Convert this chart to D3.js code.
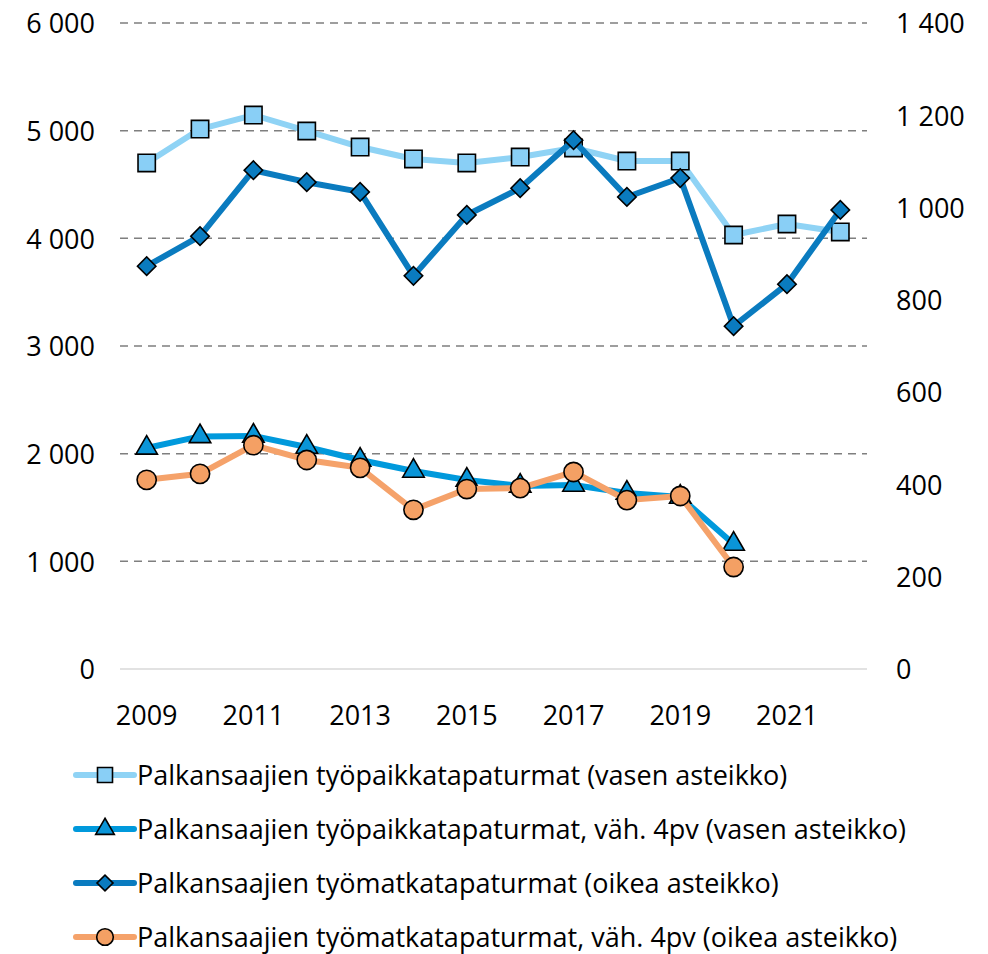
<!DOCTYPE html>
<html>
<head>
<meta charset="utf-8">
<script src="https://cdn.jsdelivr.net/npm/d3@7"></script>
<style>
  body { margin: 0; background: #fff; }
  svg text { font-family: "Open Sans", "Noto Sans", sans-serif; fill: #000; }
</style>
</head>
<body>
<svg id="chart" width="988" height="954"></svg>
<script>
const years = [2009, 2010, 2011, 2012, 2013, 2014, 2015, 2016, 2017, 2018, 2019, 2020, 2021, 2022];

// vasen asteikko
const tyopaikka = [4700, 5015, 5145, 4997, 4848, 4737, 4700, 4755, 4839, 4718, 4718, 4031, 4133, 4059];
const tyopaikka4pv = [2053, 2160, 2165, 2062, 1941, 1839, 1755, 1700, 1709, 1635, 1597, 1160, null, null];
// oikea asteikko
const tyomatka = [873, 938, 1081, 1055, 1034, 852, 984, 1042, 1146, 1023, 1064, 743, 834, 995];
const tyomatka4pv = [410, 423, 485, 453, 436, 345, 390, 392, 427, 366, 375, 221, null, null];

const leftTicks = [0, 1000, 2000, 3000, 4000, 5000, 6000];
const rightTicks = [0, 200, 400, 600, 800, 1000, 1200, 1400];
const labelYears = [2009, 2011, 2013, 2015, 2017, 2019, 2021];

const legendLabels = [
  'Palkansaajien työpaikkatapaturmat (vasen asteikko)',
  'Palkansaajien työpaikkatapaturmat, väh. 4pv (vasen asteikko)',
  'Palkansaajien työmatkatapaturmat (oikea asteikko)',
  'Palkansaajien työmatkatapaturmat, väh. 4pv (oikea asteikko)'
];

const fmt = v => d3.format(',')(v).replace(/,/g, ' ');
const fontSize = '27px';

const svg = d3.select('#chart'),
    plot = { left: 120, right: 867, top: 23, bottom: 669 };

const x = d3.scaleBand().domain(years).range([plot.left, plot.right]),
    yL = d3.scaleLinear().domain([0, 6000]).range([plot.bottom, plot.top]),
    yR = d3.scaleLinear().domain([0, 1400]).range([plot.bottom, plot.top]);

const cx = d => x(d) + x.bandwidth() / 2;

// gridlines
svg.append('g')
    .selectAll('line')
    .data(leftTicks.filter(t => t > 0))
    .enter().append('line')
    .attr('x1', plot.left).attr('x2', plot.right)
    .attr('y1', d => yL(d)).attr('y2', d => yL(d))
    .attr('stroke', '#7f7f7f')
    .attr('stroke-width', 1.5)
    .attr('stroke-dasharray', '8,6');

svg.append('line')
    .attr('x1', plot.left).attr('x2', plot.right)
    .attr('y1', plot.bottom).attr('y2', plot.bottom)
    .attr('stroke', '#d9d9d9')
    .attr('stroke-width', 1.5);

// axes
const leftAxis = svg.append('g')
    .attr('transform', `translate(${plot.left - 25},0)`)
    .call(d3.axisLeft(yL).tickValues(leftTicks).tickFormat(fmt).tickSize(0).tickPadding(0));
const rightAxis = svg.append('g')
    .attr('transform', `translate(${plot.right + 29},0)`)
    .call(d3.axisRight(yR).tickValues(rightTicks).tickFormat(fmt).tickSize(0).tickPadding(0));
const bottomAxis = svg.append('g')
    .attr('transform', `translate(0,${plot.bottom + 46})`)
    .call(d3.axisBottom(x).tickValues(labelYears).tickSize(0).tickPadding(0));

[leftAxis, rightAxis, bottomAxis].forEach(a => {
    a.select('.domain').remove();
    a.selectAll('text').style('font-size', fontSize).attr('fill', '#000').attr('dy', '0.36em');
});

// series
const series = [
    { values: tyopaikka, y: yL, color: '#8fd3f5', fill: '#89cff6', symbol: d3.symbolSquare, size: 300, rot: 0 },
    { values: tyopaikka4pv, y: yL, color: '#0099dc', fill: '#0a95d8', symbol: d3.symbolTriangle, size: 200, rot: 0 },
    { values: tyomatka, y: yR, color: '#0a7bbf', fill: '#0a7bbf', symbol: d3.symbolSquare, size: 170, rot: 45 },
    { values: tyomatka4pv, y: yR, color: '#f5a26a', fill: '#f4a064', symbol: d3.symbolCircle, size: 290, rot: 0 }
];

series.forEach(s => {
    const pts = years.map((yr, i) => ({ yr, v: s.values[i] })).filter(p => p.v != null);
    const line = d3.line().x(p => cx(p.yr)).y(p => s.y(p.v));
    svg.append('path')
        .datum(pts)
        .attr('d', line)
        .attr('fill', 'none')
        .attr('stroke', s.color)
        .attr('stroke-width', 6)
        .attr('stroke-linejoin', 'round');
    svg.append('g')
        .selectAll('path')
        .data(pts)
        .enter().append('path')
        .attr('d', d3.symbol().type(s.symbol).size(s.size))
        .attr('transform', p => `translate(${cx(p.yr)},${s.y(p.v)}) rotate(${s.rot})`)
        .attr('fill', s.fill)
        .attr('stroke', '#000')
        .attr('stroke-width', 1.6);
});

// legend
const legend = svg.append('g');
series.forEach((s, i) => {
    const ly = 775 + i * 54;
    legend.append('line')
        .attr('x1', 76).attr('x2', 134)
        .attr('y1', ly).attr('y2', ly)
        .attr('stroke', s.color)
        .attr('stroke-width', 6)
        .attr('stroke-linecap', 'round');
    legend.append('path')
        .attr('d', d3.symbol().type(s.symbol).size(s.size * 0.75))
        .attr('transform', `translate(105,${ly}) rotate(${s.rot})`)
        .attr('fill', s.fill)
        .attr('stroke', '#000')
        .attr('stroke-width', 1.6);
    legend.append('text')
        .attr('x', 137).attr('y', ly)
        .attr('dy', '0.36em')
        .style('font-size', fontSize)
        .text(legendLabels[i]);
});
</script>
</body>
</html>
